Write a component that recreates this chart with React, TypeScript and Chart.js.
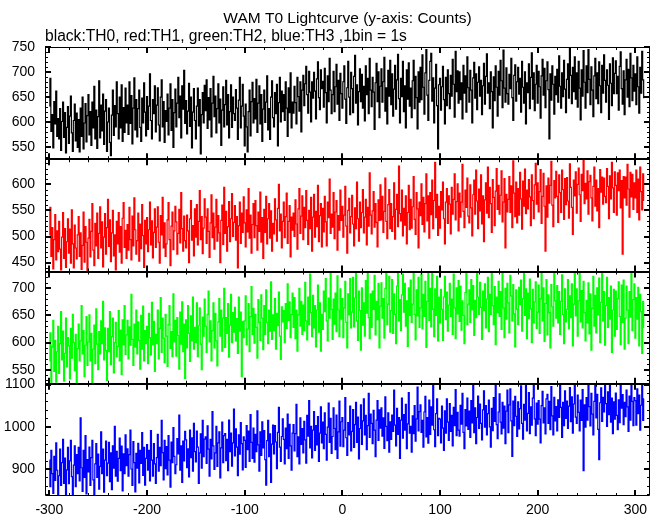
import { useEffect, useRef } from "react";
import { Chart, registerables } from "chart.js";

Chart.register(...registerables);

const TITLE = "WAM T0 Lightcurve (y-axis: Counts)";
const SUBTITLE = "black:TH0, red:TH1, green:TH2, blue:TH3 ,1bin = 1s";

const TIME_START = -300;
const BIN_SECONDS = 1;

const TH0 = [
  632, 688, 581, 615, 548, 641, 596, 662, 571, 607,
  566, 627, 543, 601, 640, 569, 619, 538, 589, 631,
  557, 612, 652, 578, 541, 603, 636, 562, 618, 549,
  605, 540, 628, 571, 650, 546, 598, 637, 560, 613,
  655, 574, 621, 553, 640, 588, 672, 566, 624, 547,
  611, 683, 568, 634, 582, 656, 555, 622, 645, 541,
  600, 628, 559, 532, 614, 664, 573, 633, 590, 681,
  617, 566, 650, 588, 675, 561, 629, 579, 668, 598,
  634, 575, 681, 597, 653, 556, 628, 689, 584, 645,
  570, 627, 664, 589, 561, 648, 598, 679, 620, 572,
  651, 585, 632, 697, 603, 566, 645, 617, 673, 580,
  634, 669, 594, 562, 650, 685, 590, 641, 559, 623,
  601, 656, 574, 628, 677, 583, 645, 549, 619, 666,
  590, 638, 690, 609, 652, 568, 673, 626, 704, 597,
  643, 576, 622, 678, 591, 650, 548, 620, 667, 603,
  566, 632, 668, 592, 645, 536, 615, 659, 598, 674,
  623, 685, 587, 649, 604, 667, 570, 638, 692, 611,
  652, 578, 627, 677, 598, 646, 553, 624, 671, 590,
  635, 684, 594, 655, 568, 621, 675, 589, 650, 617,
  603, 665, 628, 565, 644, 690, 588, 632, 676, 612,
  552, 636, 590, 540, 621, 664, 572, 641, 680, 598,
  647, 606, 686, 579, 638, 673, 596, 655, 561, 626,
  664, 599, 640, 693, 584, 627, 565, 650, 683, 609,
  590, 659, 617, 676, 552, 639, 690, 600, 662, 621,
  655, 603, 681, 628, 571, 669, 619, 699, 588, 640,
  618, 672, 639, 596, 690, 651, 622, 681, 580, 664,
  694, 633, 677, 712, 655, 618, 702, 660, 600, 681,
  648, 700, 662, 606, 687, 721, 649, 625, 705, 667,
  682, 630, 708, 659, 598, 693, 641, 728, 664, 617,
  655, 702, 621, 671, 716, 636, 684, 603, 698, 657,
  628, 681, 713, 646, 597, 669, 722, 650, 615, 700,
  667, 619, 692, 734, 638, 675, 594, 661, 707, 641,
  696, 628, 672, 602, 713, 655, 688, 617, 728, 664,
  631, 690, 660, 585, 679, 718, 641, 701, 609, 672,
  707, 640, 681, 730, 622, 669, 596, 704, 652, 724,
  635, 697, 612, 666, 714, 626, 685, 736, 647, 598,
  688, 651, 722, 621, 673, 588, 705, 646, 719, 632,
  668, 609, 683, 724, 627, 692, 649, 586, 701, 640,
  710, 645, 735, 670, 616, 699, 746, 654, 603, 684,
  722, 738, 642, 689, 598, 668, 716, 633, 546, 675,
  688, 624, 671, 712, 645, 596, 690, 633, 705, 657,
  627, 694, 652, 726, 676, 610, 742, 661, 703, 638,
  701, 645, 679, 606, 714, 658, 693, 620, 731, 669,
  640, 704, 664, 598, 689, 720, 648, 697, 625, 680,
  711, 652, 684, 615, 673, 718, 636, 692, 737, 658,
  679, 627, 701, 661, 588, 691, 643, 713, 670, 612,
  702, 654, 724, 683, 629, 745, 668, 640, 709, 657,
  636, 696, 667, 728, 649, 603, 694, 715, 642, 681,
  710, 656, 688, 620, 722, 670, 638, 701, 596, 679,
  659, 717, 627, 690, 739, 646, 699, 623, 676, 714,
  638, 702, 671, 608, 693, 726, 654, 708, 629, 683,
  721, 665, 566, 697, 644, 713, 676, 616, 692, 655,
  706, 640, 733, 672, 628, 699, 651, 724, 666, 619,
  686, 717, 648, 748, 694, 637, 710, 661, 731, 646,
  699, 630, 722, 668, 604, 705, 652, 744, 680, 628,
  713, 659, 746, 686, 635, 711, 664, 611, 693, 728,
  647, 699, 637, 721, 673, 619, 714, 658, 735, 684,
  640, 705, 674, 605, 717, 678, 633, 729, 657, 698,
  723, 657, 692, 624, 712, 741, 667, 636, 703, 615,
  685, 726, 650, 706, 631, 738, 689, 643, 714, 662,
  697, 635, 731, 671, 618, 710, 658, 742, 685, 649,
];

const TH1 = [
  503, 556, 462, 517, 438, 494, 542, 455, 511, 471,
  529, 476, 436, 499, 546, 458, 515, 441, 490, 534,
  468, 514, 449, 551, 486, 440, 522, 478, 457, 503,
  538, 462, 507, 437, 483, 547, 451, 519, 489, 434,
  497, 533, 461, 510, 563, 474, 444, 525, 482, 545,
  458, 506, 557, 478, 528, 442, 499, 544, 466, 517,
  571, 481, 532, 452, 507, 550, 463, 503, 436, 529,
  486, 546, 470, 519, 449, 535, 565, 479, 512, 458,
  523, 474, 556, 494, 455, 539, 482, 574, 513, 466,
  492, 545, 453, 524, 477, 561, 502, 441, 531, 486,
  536, 471, 513, 566, 484, 530, 459, 508, 553, 479,
  518, 557, 489, 449, 540, 503, 575, 478, 526, 462,
  486, 532, 565, 494, 444, 520, 547, 475, 511, 558,
  528, 466, 506, 552, 488, 584, 515, 472, 539, 492,
  478, 541, 511, 450, 534, 569, 493, 521, 463, 553,
  499, 561, 484, 529, 588, 494, 538, 467, 516, 572,
  537, 487, 553, 510, 460, 526, 580, 498, 545, 476,
  518, 571, 491, 540, 507, 450, 531, 560, 485, 594,
  506, 548, 472, 519, 567, 490, 534, 582, 500, 527,
  559, 493, 538, 440, 521, 566, 487, 545, 508, 576,
  526, 480, 551, 509, 592, 497, 541, 468, 523, 563,
  498, 569, 521, 474, 547, 510, 585, 489, 536, 458,
  552, 508, 577, 486, 534, 563, 497, 549, 472, 525,
  505, 572, 532, 491, 554, 600, 511, 543, 478, 529,
  566, 498, 538, 583, 487, 529, 559, 461, 537, 512,
  545, 500, 570, 524, 476, 553, 592, 506, 539, 578,
  494, 556, 517, 588, 531, 485, 550, 515, 575, 472,
  537, 581, 499, 548, 519, 598, 490, 540, 563, 480,
  554, 509, 577, 528, 482, 566, 536, 610, 506, 543,
  518, 584, 496, 547, 569, 474, 540, 512, 589, 531,
  558, 499, 541, 596, 520, 468, 550, 573, 507, 538,
  579, 524, 482, 555, 515, 604, 534, 491, 566, 517,
  546, 590, 507, 537, 571, 484, 556, 520, 622, 541,
  505, 549, 586, 518, 563, 527, 480, 570, 531, 599,
  532, 577, 508, 548, 612, 529, 496, 561, 590, 515,
  563, 510, 538, 603, 495, 552, 581, 519, 635, 544,
  530, 589, 501, 554, 522, 578, 486, 546, 598, 513,
  571, 516, 557, 615, 533, 504, 584, 553, 478, 566,
  540, 601, 523, 575, 509, 563, 620, 530, 578, 497,
  584, 542, 608, 515, 569, 642, 536, 581, 502, 558,
  516, 586, 551, 604, 534, 486, 566, 592, 525, 578,
  562, 505, 594, 543, 571, 620, 532, 567, 601, 511,
  583, 537, 566, 638, 548, 517, 589, 556, 612, 539,
  526, 599, 555, 501, 580, 608, 543, 627, 568, 515,
  591, 549, 618, 524, 578, 490, 570, 603, 545, 633,
  536, 594, 563, 508, 609, 575, 521, 587, 630, 552,
  598, 543, 579, 626, 528, 566, 611, 478, 581, 547,
  571, 615, 546, 597, 517, 645, 583, 538, 604, 526,
  592, 541, 623, 572, 514, 606, 558, 629, 544, 589,
  553, 609, 576, 521, 618, 569, 534, 599, 640, 562,
  603, 547, 586, 628, 525, 577, 621, 558, 472, 597,
  537, 612, 564, 598, 644, 560, 519, 607, 574, 625,
  577, 527, 618, 584, 546, 627, 590, 533, 611, 561,
  613, 568, 535, 639, 594, 556, 504, 608, 578, 624,
  545, 600, 631, 580, 529, 619, 588, 646, 563, 602,
  572, 626, 543, 605, 617, 574, 530, 596, 633, 558,
  608, 549, 592, 517, 628, 585, 614, 562, 612, 577,
  565, 630, 596, 534, 616, 572, 642, 593, 546, 624,
  598, 541, 622, 588, 627, 555, 607, 466, 615, 574,
  614, 560, 638, 591, 537, 623, 576, 619, 552, 603,
  574, 627, 546, 610, 532, 633, 586, 551, 620, 569,
];

const TH2 = [
  566, 618, 524, 592, 641, 547, 604, 527, 583, 630,
  543, 598, 657, 568, 621, 529, 580, 645, 555, 609,
  594, 533, 626, 571, 652, 600, 548, 615, 524, 589,
  634, 566, 603, 668, 579, 622, 537, 595, 648, 558,
  601, 651, 566, 617, 525, 588, 632, 561, 662, 597,
  550, 620, 579, 640, 598, 676, 568, 627, 585, 530,
  626, 583, 657, 559, 611, 645, 544, 600, 637, 574,
  593, 659, 566, 623, 541, 642, 596, 668, 578, 614,
  641, 570, 629, 595, 689, 606, 558, 634, 592, 660,
  579, 638, 604, 551, 650, 588, 667, 566, 622, 598,
  630, 561, 654, 609, 577, 674, 596, 639, 547, 615,
  598, 660, 570, 626, 683, 582, 645, 608, 563, 652,
  612, 556, 633, 668, 589, 620, 574, 690, 601, 641,
  575, 646, 613, 551, 656, 597, 675, 583, 634, 534,
  642, 590, 668, 617, 565, 649, 603, 684, 588, 628,
  600, 673, 574, 631, 664, 597, 550, 647, 612, 680,
  630, 582, 652, 695, 601, 640, 566, 622, 673, 590,
  654, 603, 557, 638, 681, 612, 660, 584, 645, 700,
  591, 646, 617, 672, 573, 632, 689, 600, 655, 619,
  665, 603, 644, 580, 684, 621, 656, 537, 639, 609,
  640, 686, 596, 625, 672, 583, 648, 703, 615, 663,
  599, 652, 628, 571, 679, 637, 604, 688, 645, 587,
  668, 615, 697, 637, 598, 660, 621, 712, 606, 651,
  622, 681, 588, 654, 631, 693, 612, 569, 666, 638,
  659, 600, 672, 626, 708, 641, 675, 609, 652, 691,
  628, 683, 607, 660, 584, 651, 700, 630, 676, 615,
  669, 622, 711, 640, 605, 684, 633, 726, 655, 611,
  687, 627, 668, 592, 660, 706, 619, 673, 584, 652,
  624, 695, 657, 718, 640, 603, 682, 645, 737, 661,
  606, 680, 634, 691, 620, 723, 660, 611, 699, 643,
  681, 609, 664, 713, 637, 590, 690, 651, 718, 627,
  656, 720, 629, 682, 731, 640, 604, 695, 659, 586,
  701, 632, 673, 612, 714, 654, 727, 646, 607, 690,
  628, 695, 661, 724, 614, 676, 642, 709, 590, 667,
  710, 645, 681, 608, 700, 731, 633, 671, 722, 619,
  659, 716, 617, 690, 652, 598, 704, 729, 640, 679,
  622, 688, 726, 656, 709, 630, 677, 593, 701, 650,
  715, 637, 671, 731, 652, 605, 697, 649, 720, 628,
  664, 726, 625, 689, 648, 713, 591, 676, 731, 641,
  700, 629, 728, 661, 611, 699, 650, 722, 603, 684,
  636, 698, 661, 604, 684, 722, 642, 693, 621, 669,
  709, 648, 680, 615, 726, 664, 607, 701, 653, 714,
  639, 704, 623, 677, 650, 598, 692, 731, 633, 671,
  697, 637, 716, 660, 705, 613, 678, 646, 731, 684,
  652, 711, 665, 606, 695, 659, 708, 627, 680, 720,
  620, 689, 652, 728, 668, 633, 703, 596, 684, 655,
  713, 648, 694, 624, 731, 664, 609, 700, 643, 709,
  673, 618, 724, 686, 640, 707, 653, 592, 697, 661,
  633, 702, 670, 715, 621, 681, 731, 650, 699, 607,
  691, 644, 717, 662, 600, 698, 636, 675, 712, 626,
  656, 706, 617, 681, 728, 640, 701, 602, 672, 716,
  614, 688, 655, 590, 707, 666, 630, 731, 677, 645,
  705, 636, 694, 615, 676, 725, 652, 598, 699, 638,
  661, 716, 625, 686, 646, 708, 594, 671, 731, 649,
  699, 612, 677, 731, 638, 696, 627, 713, 655, 603,
  678, 636, 710, 616, 690, 586, 663, 722, 630, 687,
  618, 701, 651, 719, 600, 674, 731, 640, 694, 595,
  668, 720, 628, 683, 643, 704, 582, 660, 698, 612,
  695, 624, 681, 712, 648, 596, 706, 637, 715, 588,
  645, 704, 660, 598, 694, 647, 729, 622, 679, 708,
  608, 683, 643, 702, 594, 689, 657, 580, 676, 628,
];

const TH3 = [
  921, 858, 944, 889, 842, 930, 873, 962, 897, 840,
  884, 947, 861, 915, 970, 866, 926, 838, 898, 951,
  865, 919, 968, 882, 837, 909, 955, 858, 934, 889,
  951, 872, 1021, 903, 847, 944, 880, 979, 841, 922,
  893, 952, 861, 927, 968, 874, 839, 912, 960, 880,
  935, 852, 906, 988, 889, 947, 845, 921, 966, 884,
  914, 963, 870, 938, 851, 955, 902, 1001, 883, 942,
  871, 925, 973, 896, 954, 848, 936, 889, 981, 908,
  948, 883, 934, 992, 900, 861, 965, 915, 846, 937,
  902, 961, 867, 944, 913, 986, 885, 951, 862, 925,
  958, 897, 944, 872, 991, 921, 883, 960, 912, 866,
  927, 982, 895, 951, 908, 1015, 939, 874, 968, 901,
  953, 886, 979, 921, 857, 964, 915, 998, 930, 889,
  910, 972, 936, 1028, 897, 955, 868, 966, 919, 989,
  969, 903, 948, 881, 992, 927, 974, 895, 1008, 941,
  917, 990, 952, 866, 938, 983, 902, 1015, 929, 971,
  976, 913, 1002, 947, 883, 970, 924, 1036, 955, 899,
  938, 1001, 906, 962, 988, 879, 950, 1011, 915, 979,
  984, 920, 970, 896, 1016, 941, 985, 907, 962, 1042,
  931, 995, 952, 884, 981, 935, 1010, 960, 898, 976,
  968, 904, 1003, 946, 990, 918, 1029, 963, 925, 997,
  916, 982, 941, 1038, 957, 895, 988, 932, 1012, 950,
  991, 922, 862, 967, 1015, 929, 983, 868, 959, 1004,
  936, 1003, 964, 901, 987, 1046, 952, 918, 977, 1019,
  970, 912, 997, 948, 1030, 925, 1006, 955, 897, 985,
  1005, 943, 984, 1053, 929, 976, 912, 1021, 958, 996,
  938, 1013, 969, 914, 1027, 978, 1062, 950, 1001, 926,
  992, 1036, 944, 1003, 957, 1024, 918, 985, 1047, 962,
  1011, 948, 1033, 982, 921, 999, 1056, 963, 1020, 937,
  977, 1045, 996, 946, 1028, 925, 988, 1061, 954, 1012,
  1022, 953, 992, 1069, 974, 932, 1010, 981, 1049, 943,
  989, 1041, 951, 1005, 1058, 963, 1023, 924, 996, 1052,
  958, 1014, 1066, 981, 1027, 946, 1003, 1079, 975, 1030,
  1008, 960, 1039, 992, 929, 1016, 1062, 968, 1040, 997,
  1045, 978, 1021, 949, 1071, 1001, 967, 1033, 940, 1012,
  970, 1028, 989, 1087, 1004, 955, 1044, 982, 1022, 925,
  1016, 1068, 973, 1029, 992, 1053, 948, 1007, 1081, 985,
  1001, 940, 1026, 984, 1050, 966, 1019, 1094, 990, 1036,
  1052, 987, 1015, 952, 1035, 1072, 976, 1022, 961, 1063,
  982, 1047, 1004, 1099, 993, 953, 1031, 1066, 979, 1020,
  1018, 962, 1049, 997, 944, 1038, 985, 1066, 1011, 968,
  1055, 989, 1027, 955, 1046, 1003, 1088, 979, 1034, 992,
  978, 1051, 1006, 1079, 987, 948, 1041, 1002, 1068, 994,
  1037, 975, 1062, 1009, 1098, 986, 1045, 960, 1022, 1073,
  996, 1054, 1008, 969, 1040, 1085, 999, 1050, 981, 1031,
  1063, 1000, 952, 1044, 991, 1069, 1013, 1102, 1005, 972,
  1035, 1078, 1011, 983, 1058, 997, 1049, 960, 1037, 1087,
  986, 1052, 1090, 1014, 930, 1061, 1003, 1072, 1025, 977,
  1059, 995, 1043, 1097, 1008, 971, 1053, 1016, 1102, 990,
  1032, 1081, 984, 1047, 1004, 1068, 1101, 1019, 979, 1056,
  1006, 1062, 1018, 962, 1050, 1084, 1009, 1045, 983, 1066,
  1077, 1008, 1060, 993, 1095, 1026, 981, 1070, 1014, 1048,
  990, 1064, 1022, 1102, 1046, 975, 1058, 1003, 1085, 1020,
  1061, 996, 1049, 1093, 1012, 1071, 985, 1054, 1100, 1023,
  1008, 1075, 1034, 990, 1063, 1015, 1088, 896, 1052, 999,
  1069, 1016, 1101, 1048, 1002, 1079, 1030, 981, 1060, 1102,
  1021, 1077, 994, 922, 1057, 1092, 1013, 1070, 1035, 1099,
  1055, 1001, 1083, 1029, 1102, 1011, 1068, 984, 1059, 1018,
  1080, 1027, 993, 1064, 1010, 1100, 1044, 1076, 1005, 1058,
  1024, 1087, 1047, 989, 1073, 1016, 1102, 1060, 1003, 1069,
  1062, 1004, 1090, 1031, 1075, 992, 1051, 1100, 1015, 1066,
];

const SERIES_NAMES = ["TH0", "TH1", "TH2", "TH3"];
const SERIES_COLORS = ["#000000", "#ff0000", "#00ff00", "#0000ff"];
const PANEL_IDS = ["y0", "y1", "y2", "y3"];

const X_RANGE = [-304.5, 315];
const X_TICKS = [-300, -200, -100, 0, 100, 200, 300];
const X_MINOR_STEP = 20;

const Y_RANGES = [
  [525, 751],
  [433, 648],
  [524, 731],
  [836, 1102],
];
const Y_TICKS = [
  [550, 600, 650, 700, 750],
  [450, 500, 550, 600],
  [550, 600, 650, 700],
  [900, 1000, 1100],
];
const Y_MINOR_STEPS = [10, 10, 10, 20];

const FONT_FAMILY = "'Liberation Sans', Arial, Helvetica, sans-serif";

const panelClipPlugin = {
  id: "panelClip",
  beforeDatasetDraw(chart: any, args: any) {
    const ys = chart.scales[args.meta.yAxisID];
    const { left, right } = chart.chartArea;
    const ctx = chart.ctx;
    ctx.save();
    ctx.beginPath();
    ctx.rect(left, ys.top, right - left, ys.bottom - ys.top);
    ctx.clip();
  },
  afterDatasetDraw(chart: any) {
    chart.ctx.restore();
  },
};

const framePlugin = {
  id: "panelFrames",
  afterDatasetsDraw(chart: any) {
    const ctx = chart.ctx;
    const xs = chart.scales.x;
    const { left, right, top: areaTop, bottom: areaBottom } = chart.chartArea;
    ctx.save();
    ctx.strokeStyle = "#000";
    ctx.lineCap = "butt";
    const line = (x1: number, y1: number, x2: number, y2: number, w: number) => {
      ctx.lineWidth = w;
      ctx.beginPath();
      ctx.moveTo(x1, y1);
      ctx.lineTo(x2, y2);
      ctx.stroke();
    };
    PANEL_IDS.forEach((id, p) => {
      const ys = chart.scales[id];
      const top = ys.top;
      const bottom = ys.bottom;
      const xStart = Math.ceil(X_RANGE[0] / X_MINOR_STEP) * X_MINOR_STEP;
      for (let v = xStart; v <= X_RANGE[1]; v += X_MINOR_STEP) {
        const px = Math.round(xs.getPixelForValue(v));
        const major = X_TICKS.includes(v);
        const len = major ? 6 : 3;
        const w = major ? 2 : 1;
        const cx = major ? px : px + 0.5;
        line(cx, top, cx, top + len, w);
        line(cx, bottom, cx, bottom - len, w);
      }
      const step = Y_MINOR_STEPS[p];
      const [mn, mx] = Y_RANGES[p];
      for (let v = Math.ceil(mn / step) * step; v <= mx; v += step) {
        const py = Math.round(ys.getPixelForValue(v));
        const major = Y_TICKS[p].includes(v);
        const len = major ? 6 : 3;
        const w = major ? 2 : 1;
        const cy = major ? py : py + 0.5;
        line(left, cy, left + len, cy, w);
        line(right, cy, right - len, cy, w);
      }
      if (p > 0) {
        const by = Math.round(top);
        line(left, by, right, by, 2);
      }
    });
    ctx.lineWidth = 1;
    const t = Math.round(areaTop) + 0.5;
    const b = Math.round(areaBottom) - 0.5;
    const l = Math.round(left) + 0.5;
    const r = Math.round(right) - 0.5;
    ctx.beginPath();
    ctx.rect(l, t, r - l, b - t);
    ctx.stroke();
    ctx.restore();
  },
};

export default function App() {
  const canvasRef = useRef<HTMLCanvasElement | null>(null);

  useEffect(() => {
    const canvas = canvasRef.current;
    if (!canvas) return;
    const series = [TH0, TH1, TH2, TH3];
    const times = TH0.map((_, i) => TIME_START + i * BIN_SECONDS);

    const scales: any = {
      x: {
        type: "linear",
        position: "bottom",
        min: X_RANGE[0],
        max: X_RANGE[1],
        grid: { display: false, drawTicks: false },
        border: { display: false },
        ticks: {
          autoSkip: false,
          maxRotation: 0,
          padding: 6,
          color: "#000",
          font: { family: FONT_FAMILY, size: 14 },
          callback: (v: any) => String(v),
        },
        afterBuildTicks: (s: any) => {
          s.ticks = X_TICKS.map((v) => ({ value: v }));
        },
        afterFit: (s: any) => {
          s.height = 19;
        },
      },
    };
    PANEL_IDS.forEach((id, p) => {
      scales[id] = {
        type: "linear",
        axis: "y",
        position: "left",
        stack: "panels",
        stackWeight: 1,
        weight: PANEL_IDS.length - p,
        min: Y_RANGES[p][0],
        max: Y_RANGES[p][1],
        grid: { display: false, drawTicks: false },
        border: { display: false },
        ticks: {
          autoSkip: false,
          padding: 10,
          color: "#000",
          font: { family: FONT_FAMILY, size: 14 },
          callback: (v: any) => String(v),
        },
        afterBuildTicks: (s: any) => {
          s.ticks = Y_TICKS[p].map((v) => ({ value: v }));
        },
        afterFit: (s: any) => {
          s.width = 45;
        },
      };
    });

    const chart = new Chart(canvas, {
      type: "line",
      data: {
        datasets: series.map((vals, p) => ({
          label: SERIES_NAMES[p],
          data: vals.map((v, i) => ({ x: times[i], y: v })),
          yAxisID: PANEL_IDS[p],
          xAxisID: "x",
          borderColor: SERIES_COLORS[p],
          backgroundColor: SERIES_COLORS[p],
          borderWidth: 1.2,
          pointRadius: 0,
          stepped: "middle",
          tension: 0,
          fill: false,
        })),
      },
      options: {
        responsive: true,
        maintainAspectRatio: false,
        animation: false,
        events: [],
        layout: { padding: { top: 0, right: 11, bottom: 0, left: 0 } },
        scales,
        plugins: {
          legend: { display: false },
          tooltip: { enabled: false },
          title: {
            display: true,
            text: TITLE,
            fullSize: false,
            align: "center",
            color: "#000",
            font: { family: FONT_FAMILY, size: 15.5, weight: "normal", lineHeight: "18px" },
            padding: { top: 10, bottom: 0 },
          },
          subtitle: {
            display: true,
            text: SUBTITLE,
            fullSize: false,
            align: "start",
            color: "#000",
            font: { family: FONT_FAMILY, size: 15.6, weight: "normal", lineHeight: "18px" },
            padding: { top: 0, bottom: 1 },
          },
        },
      } as any,
      plugins: [panelClipPlugin, framePlugin],
    });
    return () => chart.destroy();
  }, []);

  return (
    <div
      style={{
        position: "absolute",
        left: 0,
        top: 0,
        width: 661,
        height: 515,
        background: "#ffffff",
      }}
    >
      <canvas ref={canvasRef} />
    </div>
  );
}
